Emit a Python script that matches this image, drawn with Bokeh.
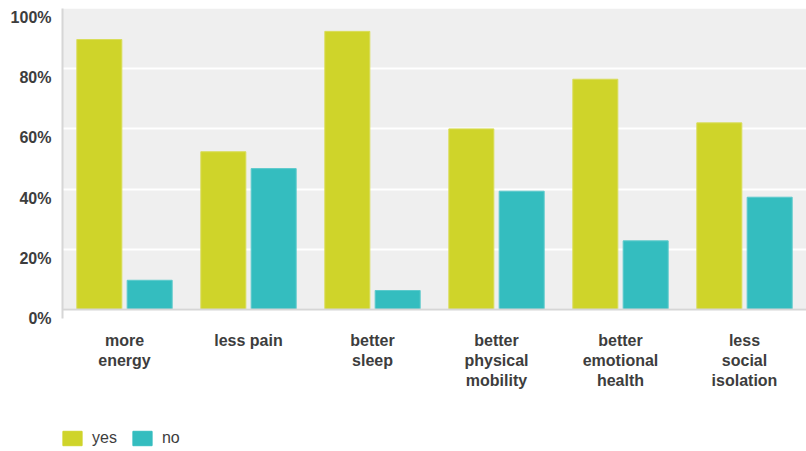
from bokeh.plotting import figure
from bokeh.layouts import column
from bokeh.models import (FactorRange, Range1d, LinearAxis, FixedTicker, BoxAnnotation,
                          ColumnDataSource, Legend, LegendItem, Span)
from bokeh.transform import dodge
from bokeh.embed import file_html
from bokeh.resources import INLINE

categories = ["more\nenergy", "less pain", "better\nsleep", "better\nphysical\nmobility",
              "better\nemotional\nhealth", "less\nsocial\nisolation"]
yes_values = [89.7, 52.4, 92.4, 60.0, 76.5, 62.0]
no_values = [9.7, 46.8, 6.3, 39.3, 22.8, 37.3]
y_ticks = [0, 20, 40, 60, 80, 100]
y_tick_labels = ["0%", "20%", "40%", "60%", "80%", "100%"]
series_names = ["yes", "no"]

YES_COLOR = "#cfd42a"
NO_COLOR = "#34bdbf"
TEXT_COLOR = "#3d3d3d"
FONT = "Liberation Sans"

src = ColumnDataSource(dict(cat=categories, yes=yes_values, no=no_values))

p = figure(width=806, height=415, x_range=FactorRange(*categories),
           y_range=Range1d(-3, 100), output_backend="svg", toolbar_location=None,
           min_border_left=62, min_border_right=0, min_border_top=8, min_border_bottom=97)
p.outline_line_color = None
p.background_fill_color = "white"
p.border_fill_color = "white"

p.extra_y_ranges = {"lab": Range1d(0, 103)}

bg = BoxAnnotation(bottom=0, top=100, fill_color="#efefef", fill_alpha=1,
                   line_color=None, level="image")
p.add_layout(bg)

p.xgrid.visible = False
p.ygrid.ticker = FixedTicker(ticks=y_ticks)
p.ygrid.grid_line_color = "white"
p.ygrid.grid_line_width = 2

p.yaxis.visible = False
lab_axis = LinearAxis(y_range_name="lab", ticker=FixedTicker(ticks=y_ticks),
                      major_label_overrides={t: l for t, l in zip(y_ticks, y_tick_labels)})
lab_axis.axis_line_color = "#d6d6d6"
lab_axis.axis_line_width = 2
lab_axis.major_tick_line_color = None
lab_axis.minor_tick_line_color = None
lab_axis.major_label_standoff = 5
lab_axis.major_label_text_font = FONT
lab_axis.major_label_text_font_style = "bold"
lab_axis.major_label_text_font_size = "16px"
lab_axis.major_label_text_color = TEXT_COLOR
p.add_layout(lab_axis, "left")

xa = p.xaxis[0]
xa.axis_line_color = None
xa.major_tick_line_color = None
xa.minor_tick_line_color = None
xa.major_label_standoff = 7
xa.major_label_text_font = FONT
xa.major_label_text_font_style = "bold"
xa.major_label_text_font_size = "16px"
xa.major_label_text_color = TEXT_COLOR
xa.major_label_text_line_height = 1.2

base = Span(location=0, dimension="width", line_color="#d6d6d6", line_width=2)
p.add_layout(base)

p.vbar(x=dodge("cat", -0.203, range=p.x_range), top="yes", bottom=0, width=0.363,
       source=src, fill_color=YES_COLOR, line_color="#d9dd5a", line_width=1)
p.vbar(x=dodge("cat", 0.203, range=p.x_range), top="no", bottom=0, width=0.363,
       source=src, fill_color=NO_COLOR, line_color="#5ccacc", line_width=1)

# legend strip below the chart (its stand-in bars lie outside the visible range)
lg = figure(width=806, height=36, x_range=Range1d(0, 1), y_range=Range1d(0, 1),
            output_backend="svg", toolbar_location=None,
            x_axis_location=None, y_axis_location=None,
            min_border_left=0, min_border_right=0, min_border_top=0, min_border_bottom=0)
lg.outline_line_color = None
lg.grid.visible = False
lg.border_fill_color = "white"
lg_src = ColumnDataSource(dict(x=[5], top=[5]))
d_yes = lg.vbar(x="x", top="top", width=0.1, source=lg_src, fill_color=YES_COLOR, line_color=YES_COLOR)
d_no = lg.vbar(x="x", top="top", width=0.1, source=lg_src, fill_color=NO_COLOR, line_color=NO_COLOR)

legend = Legend(items=[LegendItem(label=series_names[0], renderers=[d_yes]),
                       LegendItem(label=series_names[1], renderers=[d_no])],
                orientation="horizontal", location=(-2, 4))
legend.border_line_color = None
legend.background_fill_alpha = 0
legend.glyph_width = 24
legend.glyph_height = 18
legend.label_text_font = FONT
legend.label_text_font_size = "16px"
legend.label_text_color = TEXT_COLOR
legend.label_standoff = 8
legend.spacing = 13
legend.padding = 0
legend.margin = 0
lg.add_layout(legend)

open("out.html", "w").write(file_html(column(p, lg, spacing=0), INLINE))
